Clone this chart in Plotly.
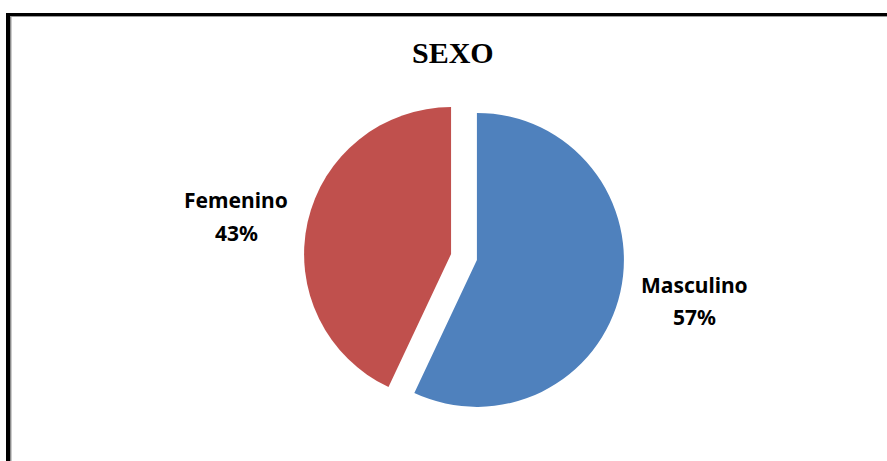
import plotly.graph_objects as go

W, H = 887, 461

# Data
labels = ["Masculino", "Femenino"]
values = [57, 43]
colors = ["#4F81BD", "#C0504D"]
title_text = "SEXO"

total = sum(values)
pcts = [f"{round(v * 100 / total)}%" for v in values]

# pie geometry (pixels, from top-left)
cx, cy, r, pull = 464, 257, 147, 0.09
half = r * (1 + pull)

def px(x):
    return x / W

def py(y):
    return 1 - y / H

fig = go.Figure()
fig.add_trace(go.Pie(
    labels=labels,
    values=values,
    sort=False,
    direction="clockwise",
    rotation=0,
    pull=[pull, pull],
    marker=dict(colors=colors, line=dict(width=0)),
    textinfo="none",
    hoverinfo="label+percent",
    showlegend=False,
    domain=dict(x=[px(cx - half), px(cx + half)], y=[py(cy + half), py(cy - half)]),
))

# labels (name line + percent line)
label_pos = {"Masculino": (694, 285, 317), "Femenino": (236, 200, 233)}
annotations = []
for lab, pc in zip(labels, pcts):
    x, y1, y2 = label_pos[lab]
    for txt, yy in ((lab, y1), (pc, y2)):
        annotations.append(dict(
            x=px(x), y=py(yy), xref="paper", yref="paper",
            text=f"<b>{txt}</b>", showarrow=False,
            xanchor="center", yanchor="middle",
            font=dict(family="Noto Sans", size=21, color="#000000"),
        ))

annotations.append(dict(
    x=px(453), y=py(53), xref="paper", yref="paper",
    text=f"<b>{title_text}</b>", showarrow=False,
    xanchor="center", yanchor="middle",
    font=dict(family="Liberation Serif", size=30, color="#000000"),
))

shapes = [
    # frame: left and top black edges with a grey inner line
    dict(type="rect", xref="paper", yref="paper", x0=px(6), x1=px(10.5), y0=0, y1=py(13),
         fillcolor="#000000", line=dict(width=0), layer="above"),
    dict(type="rect", xref="paper", yref="paper", x0=px(6), x1=1, y0=py(16), y1=py(13),
         fillcolor="#000000", line=dict(width=0), layer="above"),
    dict(type="rect", xref="paper", yref="paper", x0=px(10.5), x1=px(11.5), y0=0, y1=py(16),
         fillcolor="#9a9a9a", line=dict(width=0), layer="above"),
    dict(type="rect", xref="paper", yref="paper", x0=px(10.5), x1=1, y0=py(17), y1=py(16),
         fillcolor="#9a9a9a", line=dict(width=0), layer="above"),
]

fig.update_layout(
    width=W, height=H,
    margin=dict(l=0, r=0, t=0, b=0),
    paper_bgcolor="#FFFFFF",
    plot_bgcolor="#FFFFFF",
    annotations=annotations,
    shapes=shapes,
)

fig.write_html("out.html", config={"displayModeBar": False},
               post_script="document.body.style.margin='0';")
